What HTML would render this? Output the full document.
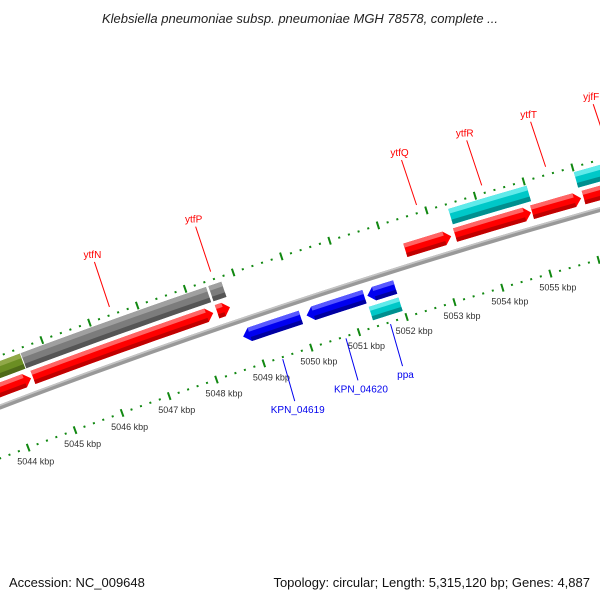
<!DOCTYPE html>
<html><head><meta charset="utf-8"><style>
html,body{margin:0;padding:0;background:#fff;}
svg{display:block;font-family:"Liberation Sans",sans-serif;}
</style></head><body>
<svg id="chart" width="600" height="600" viewBox="0 0 600 600">
<text x="300" y="23" text-anchor="middle" font-size="13" font-style="italic" fill="#222">Klebsiella pneumoniae subsp. pneumoniae MGH 78578, complete ...</text>
<g id="map"></g>
<text x="9" y="587" font-size="13" fill="#111">Accession: NC_009648</text>
<text x="590" y="587" text-anchor="end" font-size="13" fill="#111">Topology: circular; Length: 5,315,120 bp; Genes: 4,887</text>
</svg>
<script>
const geneStart=[5042.0,5044.58,5048.45,5052.37,5053.40,5054.99,5056.05, 5042.0,5044.52,5048.45,5053.42,5056.0, 5048.78,5050.11,5051.38, 5051.34];
const geneEnd  =[5044.54,5048.37,5048.72,5053.32,5054.97,5056.0,5057.5, 5044.50,5048.40,5048.72,5055.03,5057.5, 5049.99,5051.32,5051.96, 5051.96];
const geneTrack=["fwd","fwd","fwd","fwd","fwd","fwd","fwd","top","top","top","top","top","rev","rev","rev","low"];
const geneColor=["Red","Red","Red","Red","Red","Red","Red","Olive","Grey","Grey","Cyan","Cyan","Blue","Blue","Blue","Cyan"];
const geneLabel=["","ytfN","ytfP","ytfQ","ytfR","ytfT","yjfF","","","","","","KPN_04619","KPN_04620","","ppa"];
const tickMin=5041, tickMax=5057;
const tickLabels=["5044 kbp","5045 kbp","5046 kbp","5047 kbp","5048 kbp","5049 kbp","5050 kbp","5051 kbp","5052 kbp","5053 kbp","5054 kbp","5055 kbp"];
const tickLabelKbp=[5044,5045,5046,5047,5048,5049,5050,5051,5052,5053,5054,5055];

const NS="http://www.w3.org/2000/svg";
const R=7000, TH0=20.8*Math.PI/180, P0=[0,407];
const CC=[P0[0]+R*Math.sin(TH0), P0[1]+R*Math.cos(TH0)];
function lx(k){return 12+(k-5044)*50.4;}
function G(s,ly){const th=TH0-s/R;const nx=Math.sin(th),ny=Math.cos(th);return [CC[0]-(R-ly)*nx, CC[1]-(R-ly)*ny];}
const map=document.getElementById('map');
function mk(tag,attrs){const e=document.createElementNS(NS,tag);for(const k in attrs)e.setAttribute(k,attrs[k]);map.appendChild(e);return e;}
function line(x0,x1,y){const pts=[];const n=Math.max(2,Math.ceil(Math.abs(x1-x0)/20));for(let i=0;i<=n;i++)pts.push(G(x0+(x1-x0)*i/n,y));return pts;}
function band(x0,x1,y0,y1){return line(x0,x1,y0).concat(line(x1,x0,y1));}
function ps(pts){return pts.map(p=>p[0].toFixed(2)+','+p[1].toFixed(2)).join(' ');}
// backbone
const bb=mk('polygon',{points:ps(band(-60,700,-2.5,2.5)),fill:'#999'});


const bbh=mk('polygon',{points:ps(band(-60,700,-2.5,-0.8)),fill:'#c4c4c4'});


// ticks
for(let i=0;i<=(tickMax-tickMin)*5;i++){
  const k=tickMin+i*0.2, major=(i%5===0), x=lx(k);
  for(const row of [-48,48]){
    const h=major?4:1;
    const t=mk('polygon',{points:ps([G(x-1,row-h),G(x+1,row-h),G(x+1,row+h),G(x-1,row+h)]),fill:'#118811'});
    
    
  }
}
tickLabelKbp.forEach((k,i)=>{
  const [x,y]=G(lx(k),48);
  const t=mk('text',{x:x-11,y:y+17,'font-size':'9',fill:'#333'});
  t.textContent=tickLabels[i];
  
  
});
const trackY={fwd:[-23,-9],top:[-43,-27],rev:[9,23],low:[27,41]};
const shade={Red:['#ff6464','#ff0000','#c00000'],Grey:['#a0a0a0','#7c7c7c','#555'],Olive:['#90a848','#6b8e23','#4e6a18'],Cyan:['#60eaea','#00c8c8','#008f8f'],Blue:['#5858ff','#0000f0','#0000a0']};
geneStart.forEach((s,i)=>{
  const [y0,y1]=trackY[geneTrack[i]], x0=lx(s), x1=lx(geneEnd[i]), m=(y0+y1)/2;
  const a=Math.min(7,(x1-x0)*0.5);
  const tr=geneTrack[i], sh=shade[geneColor[i]], h=y1-y0;
  let full, bx0=x0, bx1=x1;
  if(tr==='fwd'){full=line(x0,x1-a,y0).concat([G(x1,m)],line(x1-a,x0,y1));bx1=x1-a;}
  else if(tr==='rev'){full=[G(x0,m)].concat(line(x0+a,x1,y0),line(x1,x0+a,y1));bx0=x0+a;}
  else full=band(x0,x1,y0,y1);
  const p=mk('polygon',{points:ps(full),fill:sh[1]});
  
  
  const hi=mk('polygon',{points:ps(band(bx0,bx1,y0,y0+h*0.3)),fill:sh[0]});
  
  
  const lo=mk('polygon',{points:ps(band(bx0,bx1,y1-h*0.3,y1)),fill:sh[2]});
  
  
  if(geneLabel[i]){
    const mid=lx((s+geneEnd[i])/2);
    const up=tr==='fwd'||tr==='top';
    const [ax,ay]=G(mid,up?-56:50);
    const col=up?'#ff0000':'#0000ee';
    const l=mk('line',{x1:ax,y1:ay,x2:up?ax-15:ax+12,y2:up?ay-45:ay+42,stroke:col,'stroke-width':1});
    
    
    const t=mk('text',{x:up?ax-17:ax+15,y:up?ay-49:ay+54,'text-anchor':'middle','font-size':'10',fill:col});
    t.textContent=geneLabel[i];
    
    
  }
});
</script>
</body></html>
